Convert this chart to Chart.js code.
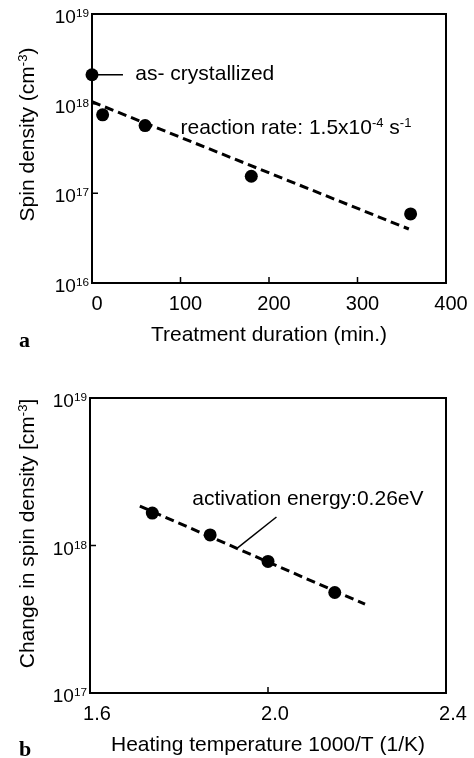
<!DOCTYPE html>
<html>
<head>
<meta charset="utf-8">
<script src="https://cdn.jsdelivr.net/npm/chart.js@4.4.1/dist/chart.umd.min.js"></script>
<style>
  body { margin: 0; background: #fff; }
  #wrap { position: relative; width: 474px; height: 758px; }
  .box { position: absolute; left: 0; width: 474px; }
  .panel { position: absolute; font: bold 22px "Liberation Serif", serif; color: #000; }
</style>
</head>
<body>
<div id="wrap">
  <div class="box" style="top:0;height:348px"><canvas id="chartA"></canvas></div>
  <div class="box" style="top:380px;height:378px"><canvas id="chartB"></canvas></div>
  <div class="panel" style="left:19px;top:327px">a</div>
  <div class="panel" style="left:19px;top:736px">b</div>
</div>
<script>
"use strict"

// panel a: spin density after treatment
let durations = [0, 12, 60, 180, 360];
let spinDensity = [2.1e18, 7.5e17, 5.7e17, 1.55e17, 5.9e16];
let fitDurations = [0, 358];
let fitSpin = [1.05e18, 4.0e16];
let durationTicks = [0, 100, 200, 300, 400];
let spinTicks = [1e16, 1e17, 1e18, 1e19];

// panel b: change in spin density vs 1000/T
let inverseTemp = [1.74, 1.87, 2.0, 2.15];
let spinChange = [1.66e18, 1.18e18, 7.8e17, 4.8e17];
let fitInverseTemp = [1.712, 2.218];
let fitSpinChange = [1.85e18, 4.0e17];
let inverseTempTicks = [1.6, 2.0, 2.4];
let spinChangeTicks = [1e17, 1e18, 1e19];

// leader lines for the notes (data units)
let asCrystLeaderX = [0, 35];
let asCrystLeaderY = [2.1e18, 2.1e18];
let activationLeaderX = [1.931, 2.019];
let activationLeaderY = [9.6e17, 1.56e18];

const FONT = '"Liberation Sans", Arial, sans-serif';

function toPoints(xs, ys) {
    return xs.map((x, i) => ({x: x, y: ys[i]}));
}

function fontOf(size) {
    return size + "px " + FONT;
}

// text with superscripts: parts = [[text, isSup], ...]
function richWidth(ctx, parts, size) {
    let w = 0;
    for (const [t, sup] of parts) {
        ctx.font = fontOf(sup ? size * 0.62 : size);
        w += ctx.measureText(t).width;
    }
    return w;
}

function drawRich(ctx, parts, x, y, size) {
    for (const [t, sup] of parts) {
        ctx.font = fontOf(sup ? size * 0.62 : size);
        ctx.fillText(t, x, sup ? y - size * 0.31 : y);
        x += ctx.measureText(t).width;
    }
}

// frame, inner ticks, log labels, rotated y title and notes
const framePlugin = {
    id: "frame",
    beforeDatasetsDraw(chart, args, opts) {
        const ctx = chart.ctx;
        const area = chart.chartArea;
        const xs = chart.scales.x;
        const ys = chart.scales.y;
        ctx.save();
        ctx.strokeStyle = "#000";
        ctx.lineWidth = 2;
        ctx.strokeRect(area.left, area.top, area.right - area.left, area.bottom - area.top);
        ctx.lineWidth = 1.5;
        ctx.beginPath();
        xs.ticks.slice(1, -1).forEach(t => {
            const px = xs.getPixelForValue(t.value);
            ctx.moveTo(px, area.bottom);
            ctx.lineTo(px, area.bottom - 6);
        });
        ys.ticks.slice(1, -1).forEach(t => {
            const py = ys.getPixelForValue(t.value);
            ctx.moveTo(area.left, py);
            ctx.lineTo(area.left + 6, py);
        });
        ctx.stroke();
        ctx.restore();
    },
    afterDatasetsDraw(chart, args, opts) {
        const ctx = chart.ctx;
        const area = chart.chartArea;
        const xs = chart.scales.x;
        const ys = chart.scales.y;
        ctx.save();
        ctx.fillStyle = "#000";
        ctx.textBaseline = "alphabetic";
        ctx.textAlign = "left";
        // log tick labels as 10^n
        ys.ticks.forEach(t => {
            const py = ys.getPixelForValue(t.value);
            const parts = [["10", 0], [String(Math.round(Math.log10(t.value))), 1]];
            const w = richWidth(ctx, parts, 19);
            drawRich(ctx, parts, area.left - 3 - w, py + 9, 19);
        });
        // y title
        const tw = richWidth(ctx, opts.yTitle, 21);
        ctx.translate(27, (area.top + area.bottom) / 2 + opts.yTitleShift);
        ctx.rotate(-Math.PI / 2);
        drawRich(ctx, opts.yTitle, -tw / 2, 7, 21);
        ctx.setTransform(1, 0, 0, 1, 0, 0);
        // notes
        opts.notes.forEach(n => {
            drawRich(ctx, n.parts, xs.getPixelForValue(n.x), ys.getPixelForValue(n.y) + 7.5, 21);
        });
        ctx.restore();
    }
};

function makeChart(id, cfg) {
    return new Chart(document.getElementById(id), {
        type: "scatter",
        data: {
            datasets: [
                {
                    data: cfg.points,
                    showLine: false,
                    pointRadius: 6.5,
                    pointBackgroundColor: "#000",
                    pointBorderWidth: 0,
                    clip: false
                },
                {
                    data: cfg.fit,
                    showLine: true,
                    borderColor: "#000",
                    borderWidth: 3,
                    borderDash: [9, 5],
                    pointRadius: 0,
                    clip: false
                },
                {
                    data: cfg.leader,
                    showLine: true,
                    borderColor: "#000",
                    borderWidth: 1.5,
                    pointRadius: 0,
                    clip: false
                }
            ]
        },
        options: {
            responsive: true,
            maintainAspectRatio: false,
            animation: false,
            layout: { padding: { top: cfg.top, right: 28, left: 0, bottom: 0 } },
            plugins: {
                legend: { display: false },
                tooltip: { enabled: false },
                frame: { yTitle: cfg.yTitle, yTitleShift: cfg.yTitleShift, notes: cfg.notes }
            },
            scales: {
                x: {
                    type: "linear",
                    min: cfg.xTicks[0],
                    max: cfg.xTicks[cfg.xTicks.length - 1],
                    afterBuildTicks: s => { s.ticks = cfg.xTicks.map(v => ({value: v})); },
                    afterFit: s => { s.height = cfg.xHeight; },
                    grid: { display: false, drawTicks: false },
                    border: { display: false },
                    ticks: {
                        color: "#000",
                        padding: 9,
                        maxRotation: 0,
                        labelOffset: cfg.labelOffset,
                        font: { family: FONT, size: 20 },
                        callback: cfg.xFormat
                    },
                    title: {
                        display: true,
                        text: cfg.xTitle,
                        color: "#000",
                        padding: { top: 0, bottom: 0 },
                        font: { family: FONT, size: 21 }
                    }
                },
                y: {
                    type: "logarithmic",
                    min: cfg.yTicks[0],
                    max: cfg.yTicks[cfg.yTicks.length - 1],
                    afterBuildTicks: s => { s.ticks = cfg.yTicks.map(v => ({value: v})); },
                    afterFit: s => { s.width = cfg.yWidth; },
                    grid: { display: false },
                    border: { display: false },
                    ticks: { display: false }
                }
            }
        },
        plugins: [framePlugin]
    });
}

makeChart("chartA", {
    points: toPoints(durations, spinDensity),
    fit: toPoints(fitDurations, fitSpin),
    leader: toPoints(asCrystLeaderX, asCrystLeaderY),
    xTicks: durationTicks,
    yTicks: spinTicks,
    xFormat: v => String(v),
    xTitle: "Treatment duration (min.)",
    yTitle: [["Spin density (cm", 0], ["-3", 1], [")", 0]],
    yTitleShift: -14,
    top: 14,
    xHeight: 65,
    yWidth: 92,
    labelOffset: 5,
    notes: [
        { x: 49, y: 2.2e18, parts: [["as- crystallized", 0]] },
        { x: 100, y: 5.6e17, parts: [["reaction rate: 1.5x10", 0], ["-4", 1], [" s", 0], ["-1", 1]] }
    ]
});

makeChart("chartB", {
    points: toPoints(inverseTemp, spinChange),
    fit: toPoints(fitInverseTemp, fitSpinChange),
    leader: toPoints(activationLeaderX, activationLeaderY),
    xTicks: inverseTempTicks,
    yTicks: spinChangeTicks,
    xFormat: v => v.toFixed(1),
    xTitle: "Heating temperature 1000/T (1/K)",
    yTitle: [["Change in spin density [cm", 0], ["-3", 1], ["]", 0]],
    yTitleShift: -12,
    top: 18,
    xHeight: 65,
    yWidth: 90,
    labelOffset: 7,
    notes: [
        { x: 1.83, y: 2.13e18, parts: [["activation energy:0.26eV", 0]] }
    ]
});
</script>
</body>
</html>
